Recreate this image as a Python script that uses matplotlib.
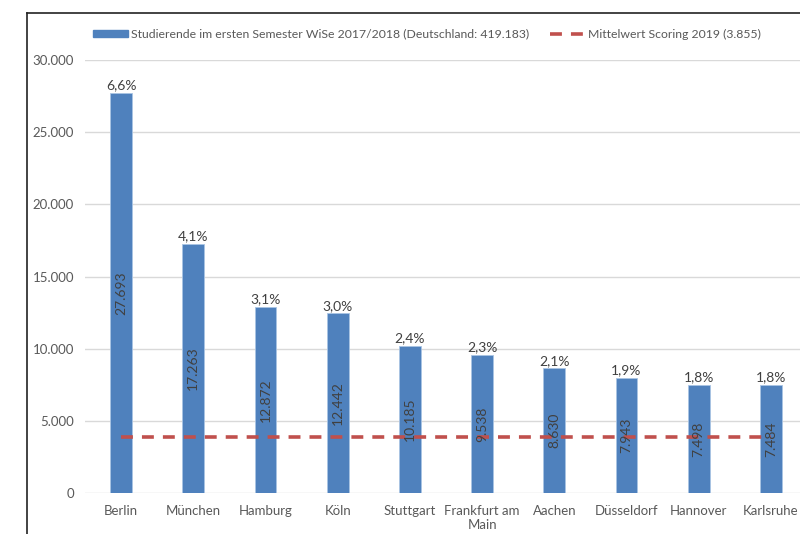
import matplotlib.pyplot as plt
from matplotlib.lines import Line2D
import numpy as np

plt.rcParams['font.family'] = ['Lato', 'DejaVu Sans']

staedte = ['Berlin', 'München', 'Hamburg', 'Köln', 'Stuttgart', 'Frankfurt am\nMain',
           'Aachen', 'Düsseldorf', 'Hannover', 'Karlsruhe']
studierende = [27693, 17263, 12872, 12442, 10185, 9538, 8630, 7943, 7498, 7484]
anteil = ['6,6%', '4,1%', '3,1%', '3,0%', '2,4%', '2,3%', '2,1%', '1,9%', '1,8%', '1,8%']
mittelwert = 3855

blau = '#4F81BD'
rot = '#C0504D'
grau = '#595959'

fig = plt.figure(figsize=(8, 5.34), dpi=100)
ax = fig.add_axes([0.10625, 0.0768, 0.9025, 0.8108])

x = np.arange(len(staedte))
ax.bar(x, studierende, width=0.3, color=blau, edgecolor='#A9C4E4', linewidth=0.6, zorder=2)
ax.plot([x[0], x[-1]], [mittelwert, mittelwert], color=rot, lw=2.6,
        dashes=(3.3, 2.5), zorder=3)

def fmt(v):
    return f'{v:,}'.replace(',', '.')

for xi, v, p in zip(x, studierende, anteil):
    ax.text(xi, v / 2, fmt(v), rotation=90, ha='center', va='center',
            fontsize=10, color='#404040', zorder=4)
    ax.text(xi, v + 120, p, ha='center', va='bottom', fontsize=10, color='#404040')

ax.set_xlim(-0.5, 9.5)
ax.set_ylim(0, 30000)
ax.set_yticks(range(0, 30001, 5000))
ax.set_yticklabels([fmt(t) for t in range(0, 30001, 5000)])
ax.set_xticks(x)
ax.set_xticklabels(staedte, linespacing=1.2)
ax.tick_params(length=0, labelsize=9.5, colors=grau)
ax.tick_params(axis='y', pad=8)
ax.tick_params(axis='x', pad=9)
ax.grid(axis='y', color='#D9D9D9', lw=1, zorder=0)
for s in ax.spines.values():
    s.set_visible(False)

handles = [plt.Rectangle((0, 0), 1, 1, color=blau),
           Line2D([0], [0], color=rot, lw=2.6, dashes=(3.3, 2.5))]
labels = ['Studierende im ersten Semester WiSe 2017/2018 (Deutschland: 419.183)',
          'Mittelwert Scoring 2019 (3.855)']
fig.legend(handles, labels, loc='center', bbox_to_anchor=(0.534, 0.936), ncol=2,
           frameon=False, fontsize=8.8, labelcolor=grau, handlelength=2.8,
           handleheight=0.5, handletextpad=0.3, columnspacing=1.7)

# Rahmen um das Diagramm
fig.add_artist(Line2D([27 / 800, 27 / 800], [0, 1 - 13 / 534], color='#222222', lw=1.2))
fig.add_artist(Line2D([27 / 800, 1], [1 - 13 / 534, 1 - 13 / 534], color='#222222', lw=1.2))

fig.savefig('out.png', dpi=100)
